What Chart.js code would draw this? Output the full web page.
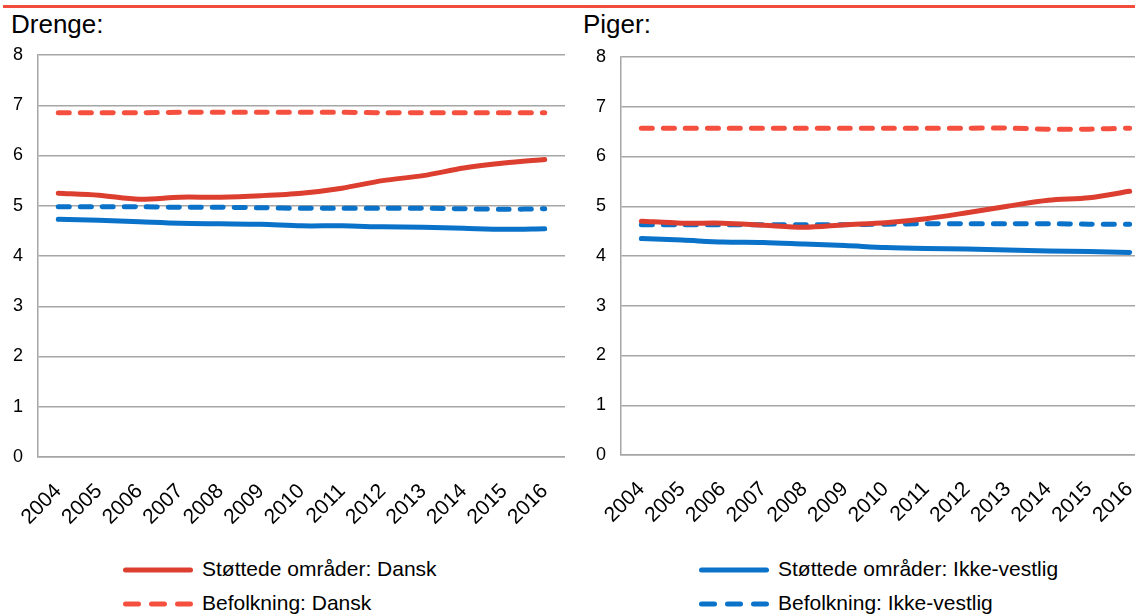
<!DOCTYPE html>
<html>
<head>
<meta charset="utf-8">
<script src="https://cdn.jsdelivr.net/npm/chart.js@4"></script>
<style>
  html, body { margin: 0; padding: 0; background: #fff; width: 1135px; height: 614px; overflow: hidden; position: relative; font-family: "Liberation Sans", Arial, sans-serif; }
  .topbar { position: absolute; left: 3px; top: 5px; width: 1132px; height: 3px; background: #f24c3c; }
  .title { position: absolute; top: 9px; font-size: 26px; color: #000; }
  canvas { position: absolute; }
  .legend { position: absolute; font-size: 21px; color: #000; }
  .legend .item { position: absolute; white-space: nowrap; height: 20px; }
  .legend svg { position: absolute; left: 0; top: 3px; }
  .legend span { position: absolute; top: -3px; left: 81px; }
</style>
</head>
<body>
<div class="topbar"></div>
<div class="title" style="left:11px">Drenge:</div>
<div class="title" style="left:583px">Piger:</div>
<canvas id="drenge" width="565" height="540" style="left:0;top:0"></canvas>
<canvas id="piger" width="575" height="540" style="left:575px;top:0"></canvas>
<div id="legend"></div>
<script>
// ==========================================
// DATA
// ==========================================
var years = ['2004','2005','2006','2007','2008','2009','2010','2011','2012','2013','2014','2015','2016'];

var drengeStottetDansk = [5.25, 5.21, 5.13, 5.17, 5.17, 5.2, 5.25, 5.35, 5.5, 5.6, 5.75, 5.85, 5.92];
var drengeBefolkDansk  = [6.85, 6.85, 6.85, 6.86, 6.86, 6.86, 6.86, 6.86, 6.85, 6.85, 6.85, 6.85, 6.85];
var drengeStottetIkke  = [4.73, 4.71, 4.68, 4.65, 4.64, 4.63, 4.6, 4.6, 4.58, 4.57, 4.55, 4.53, 4.54];
var drengeBefolkIkke   = [4.98, 4.98, 4.98, 4.97, 4.97, 4.96, 4.95, 4.95, 4.95, 4.95, 4.94, 4.93, 4.94];

var pigerStottetDansk = [4.7, 4.66, 4.66, 4.62, 4.58, 4.63, 4.67, 4.75, 4.87, 5.0, 5.12, 5.17, 5.3];
var pigerBefolkDansk  = [6.57, 6.57, 6.57, 6.57, 6.57, 6.57, 6.57, 6.57, 6.57, 6.57, 6.55, 6.55, 6.57];
var pigerStottetIkke  = [4.35, 4.32, 4.28, 4.27, 4.24, 4.21, 4.17, 4.15, 4.14, 4.12, 4.1, 4.09, 4.07];
var pigerBefolkIkke   = [4.63, 4.63, 4.63, 4.63, 4.63, 4.63, 4.64, 4.65, 4.65, 4.65, 4.65, 4.64, 4.64];

var labels = ['Støttede områder: Dansk', 'Befolkning: Dansk', 'Støttede områder: Ikke-vestlig', 'Befolkning: Ikke-vestlig'];

var RED = '#dc3f2f', RED_LIGHT = '#f5503f', BLUE = '#0a72c8';
var GRID = '#a6a6a6';
var FONT = '"Liberation Sans", Arial, sans-serif';

function makeDatasets(sd, bd, si, bi) {
    var base = { fill: false, tension: 0.3, pointRadius: 0, borderWidth: 5, borderCapStyle: 'round' };
    return [
        Object.assign({ label: labels[0], data: sd, borderColor: RED }, base),
        Object.assign({ label: labels[1], data: bd, borderColor: RED_LIGHT, borderDash: [11, 11] }, base),
        Object.assign({ label: labels[2], data: si, borderColor: BLUE }, base),
        Object.assign({ label: labels[3], data: bi, borderColor: BLUE, borderDash: [11, 11] }, base)
    ];
}

function makeChart(id, datasets, yWidth, top, xHeight) {
    return new Chart(document.getElementById(id), {
        type: 'line',
        data: { labels: years, datasets: datasets },
        options: {
            responsive: false,
            animation: false,
            layout: { padding: { top: top, right: 0, left: 0, bottom: 0 } },
            plugins: { legend: { display: false }, tooltip: { enabled: false } },
            scales: {
                x: {
                    offset: true,
                    grid: { display: false, drawTicks: false },
                    border: { display: true, color: GRID, width: 1.5 },
                    ticks: { color: '#000', font: { family: FONT, size: 21 }, minRotation: 45, maxRotation: 45, padding: 22 },
                    afterFit: function(s) {
                        s.height = xHeight;
                        s.paddingLeft = 0;
                        s.paddingRight = 0;
                    }
                },
                y: {
                    min: 0, max: 8,
                    grid: { color: GRID, lineWidth: 1.5, drawTicks: false },
                    border: { display: true, color: GRID, width: 1.5 },
                    ticks: { stepSize: 1, color: '#000', font: { family: FONT, size: 18 }, padding: 15 },
                    afterFit: function(s) {
                        s.width = yWidth;
                        s.paddingTop = 0;
                        s.paddingBottom = 0;
                    }
                }
            }
        }
    });
}

makeChart('drenge', makeDatasets(drengeStottetDansk, drengeBefolkDansk, drengeStottetIkke, drengeBefolkIkke), 38, 55, 83);
makeChart('piger', makeDatasets(pigerStottetDansk, pigerBefolkDansk, pigerStottetIkke, pigerBefolkIkke), 46, 57, 85);

// ==========================================
// LEGEND (html)
// ==========================================
var legendItems = [
    { text: labels[0], color: RED, dash: false, x: 121, y: 560 },
    { text: labels[1], color: RED_LIGHT, dash: true, x: 121, y: 594 },
    { text: labels[2], color: BLUE, dash: false, x: 697, y: 560 },
    { text: labels[3], color: BLUE, dash: true, x: 697, y: 594 }
];
var $legend = document.getElementById('legend');
legendItems.forEach(function(it) {
    var div = document.createElement('div');
    div.className = 'legend';
    div.style.left = it.x + 'px';
    div.style.top = it.y + 'px';
    var dash = it.dash ? ' stroke-dasharray="13 13"' : '';
    div.innerHTML = '<div class="item"><svg width="76" height="14"><line x1="4.5" y1="7" x2="69.5" y2="7" stroke="' + it.color +
        '" stroke-width="5" stroke-linecap="round"' + dash + '/></svg><span>' + it.text + '</span></div>';
    $legend.appendChild(div);
});
</script>
</body>
</html>
